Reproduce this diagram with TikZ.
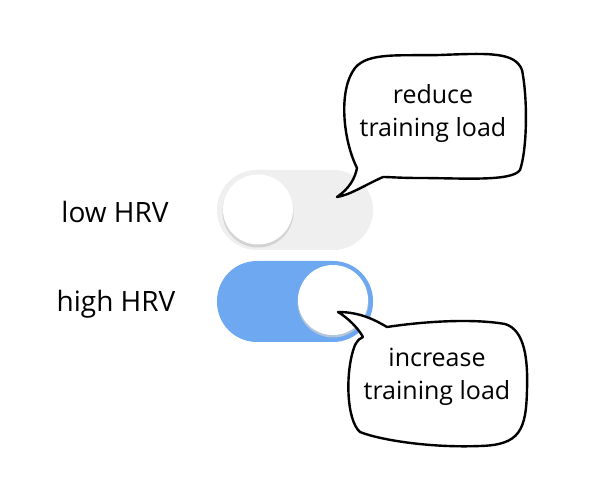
\documentclass[tikz,border=0pt]{standalone}
\usepackage{fontspec}
\setmainfont{Open Sans}
\definecolor{offgray}{HTML}{EFEFEF}
\definecolor{onblue}{HTML}{6DA8F0}
\definecolor{knobshadow}{HTML}{D2D2D2}
\tikzset{
  track/.style={rounded corners=40pt},
  knob/.style={fill=white},
  bubble/.style={draw=black, line width=2.4pt, fill=white, line join=round},
  lbl/.style={font=\fontsize{28}{32}\selectfont, inner sep=0pt},
  btext/.style={font=\fontsize{25}{33}\selectfont, align=center, inner sep=0pt}
}
\begin{document}
\begin{tikzpicture}[x=1pt,y=-1pt]
\useasboundingbox (0,0) rectangle (616,494);
\fill[white] (0,0) rectangle (616,494);
% toggle low
\fill[offgray, track] (217,170) rectangle (373,250);
\fill[knobshadow] (258,212) circle (35.5);
\fill[knob] (258,209.5) circle (35);
% toggle high
\fill[onblue, track] (217,261) rectangle (373,342);
\fill[knobshadow!70!onblue] (333,302) circle (35.5);
\fill[knob] (333,300) circle (35);
% labels
\node[lbl] (low) at (115,212) {low HRV};
\node[lbl] (high) at (116,304) {high HRV};
% bubble 1
\draw[bubble] (337,197) .. controls (350,188) and (355,178) .. (357,168)
  .. controls (343,140) and (338,90) .. (355,68)
  .. controls (368,52) and (400,56) .. (440,55)
  .. controls (490,53) and (515,52) .. (522,70)
  .. controls (528,100) and (527,150) .. (520,170)
  .. controls (512,182) and (460,178) .. (420,178)
  .. controls (400,178) and (390,177) .. (383,177)
  .. controls (365,185) and (350,195) .. (337,197) -- cycle;
\node[btext] (reduce) at (433,114) {reduce\\training load};
% bubble 2
\draw[bubble] (338,312) .. controls (360,312) and (375,320) .. (387,327)
  .. controls (420,322) and (470,318) .. (505,324)
  .. controls (525,330) and (528,360) .. (527,390)
  .. controls (526,430) and (520,445) .. (480,446)
  .. controls (430,448) and (380,440) .. (360,432)
  .. controls (346,420) and (345,370) .. (355,345)
  .. controls (358,340) and (360,338) .. (363,337)
  .. controls (358,328) and (348,318) .. (338,312) -- cycle;
\node[btext] (increase) at (437,377) {increase\\training load};
\end{tikzpicture}
\end{document}
